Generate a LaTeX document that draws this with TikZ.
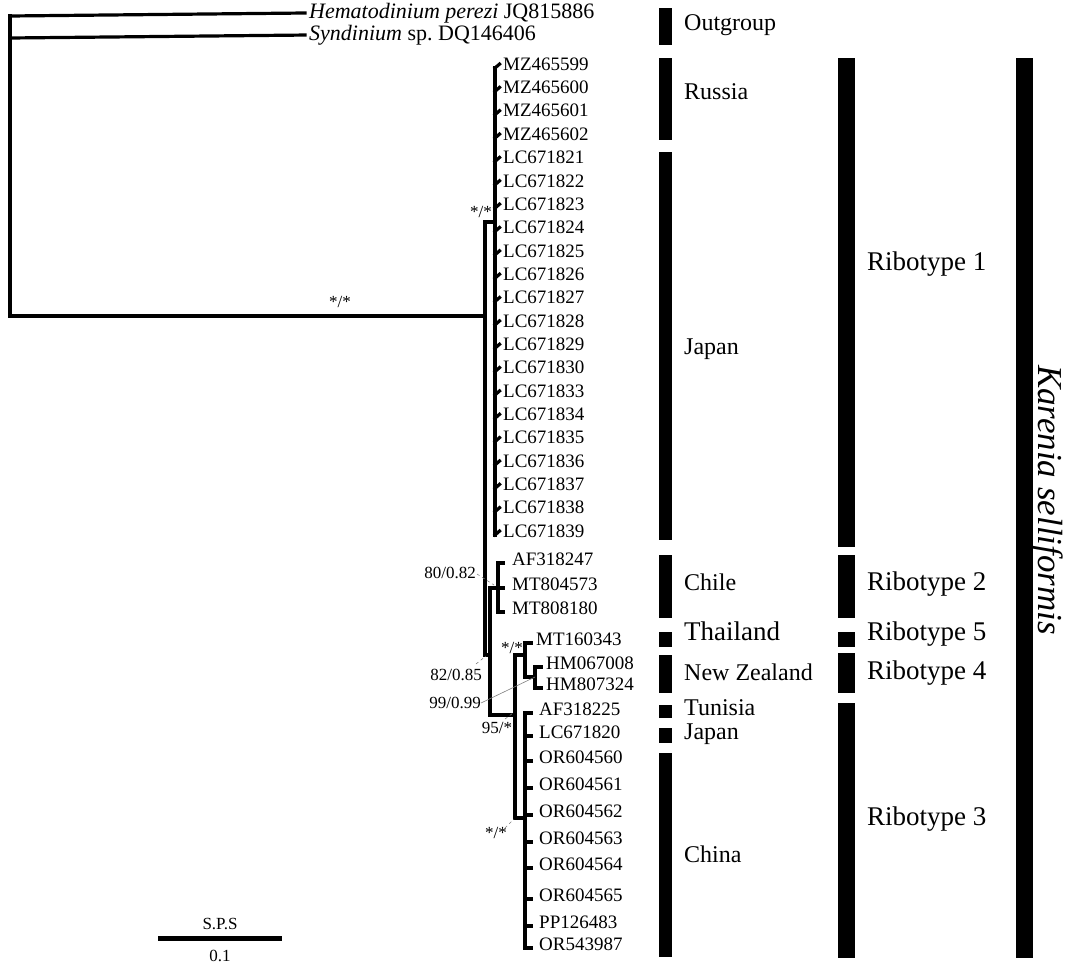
\documentclass[tikz,border=0pt]{standalone}
\usepackage{fontspec}
\setmainfont{Liberation Serif}
\frenchspacing
\begin{document}
\begin{tikzpicture}[x=1pt,y=-1pt,
  br/.style={line width=3.2pt, line cap=rect},
  leaf/.style={inner sep=0pt, anchor=mid west, font=\fontsize{19}{19}\selectfont},
  outg/.style={inner sep=0pt, anchor=mid west, font=\fontsize{22}{22}\selectfont},
  supp/.style={inner sep=0pt, font=\fontsize{17}{17}\selectfont},
  lead/.style={line width=0.6pt, gray, dashed},
  region/.style={inner sep=0pt, anchor=mid west, font=\fontsize{24}{24}\selectfont},
  ribo/.style={inner sep=0pt, anchor=mid west, font=\fontsize{27}{27}\selectfont},
  bar/.style={fill=black}]
\useasboundingbox (0,0) rectangle (1066,964);

% ---------- outgroup ----------
\coordinate (root) at (10,316);
\coordinate (rtop) at (10,16);
\coordinate (o2) at (10,38);
\node[outg] (hema) at (309,16) {\textit{Hematodinium perezi} JQ815886};
\node[outg] (synd) at (309,38) {\textit{Syndinium} sp. DQ146406};
\draw[br] (rtop) -- (root);
\draw[br] (rtop) -- ([xshift=-4pt]hema.west);
\draw[br] (o2) -- ([xshift=-4pt]synd.west);

% ---------- main nodes ----------
\coordinate (nM) at (485,316);
\coordinate (nMt) at (485,222);
\coordinate (nMb) at (485,655);
\draw[br] (root) -- (nM);
\draw[br] (nMt) -- (nMb);
\node[supp] (sRoot) at (340,302) {*/*};
\node[supp] (sR1) at (481,212) {*/*};

% ---------- Ribotype 1 clade ----------
\coordinate (r1) at (495,222);
\draw[br] (nMt) -- (r1);
\draw[br] (495,68) -- (495,535);
\foreach \n [count=\i from 0] in {MZ465599,MZ465600,MZ465601,MZ465602,LC671821,LC671822,LC671823,LC671824,LC671825,LC671826,LC671827,LC671828,LC671829,LC671830,LC671833,LC671834,LC671835,LC671836,LC671837,LC671838,LC671839}{
  \pgfmathsetmacro\yy{68+\i*23.35}
  \node[leaf] (l\n) at (503,\yy) {\n};
  \draw[br] (495,\yy) -- ([xshift=-3.5pt]l\n.west);
}

% ---------- node 82/0.85 ----------
\coordinate (n82) at (490,655);
\coordinate (n82t) at (490,588);
\coordinate (n82b) at (490,715);
\draw[br] (nMb) -- (n82);
\draw[br] (n82t) -- (n82b);
\node[supp, anchor=east] (s82) at (482,675) {82/0.85};
\draw[lead] (476,664) -- (486,656);

% ---------- Chile clade ----------
\coordinate (chl) at (498,588);
\draw[br] (n82t) -- (chl);
\draw[br] (498,563) -- (498,612);
\foreach \n/\yy in {AF318247/563,MT804573/588,MT808180/612}{
  \node[leaf] (l\n) at (512,\yy) {\n};
  \draw[br] (498,\yy) -- (503,\yy);
}
\node[supp, anchor=east] (s80) at (476,573) {80/0.82};
\draw[lead] (477,574) -- (494,585);

% ---------- node 95/* ----------
\coordinate (n95) at (515,715);
\coordinate (n95t) at (515,655);
\coordinate (n95b) at (515,818);
\draw[br] (n82b) -- (n95);
\draw[br] (n95t) -- (n95b);
\node[supp] (s95) at (497,728) {95/*};
\draw[lead] (505,719) -- (513,713);

% ---------- Ribotype 5 / 4 ----------
\coordinate (n54) at (525,655);
\draw[br] (n95t) -- (n54);
\draw[br] (525,643) -- (525,677);
\node[leaf] (lMT160343) at (536,643) {MT160343};
\draw[br] (525,643) -- (531,643);
\node[supp] (s54) at (512,648) {*/*};
\coordinate (n99) at (535,677);
\draw[br] (525,677) -- (n99);
\draw[br] (535,667) -- (535,688);
\foreach \n/\yy in {HM067008/667,HM807324/688}{
  \node[leaf] (l\n) at (546,\yy) {\n};
  \draw[br] (535,\yy) -- (541,\yy);
}
\node[supp, anchor=east] (s99) at (481,703) {99/0.99};
\draw[line width=0.6pt, gray] (s99.east) -- (n99);

% ---------- Ribotype 3 ----------
\coordinate (r3) at (525,818);
\draw[br] (n95b) -- (r3);
\draw[br] (525,713) -- (525,948);
\foreach \n/\yy in {AF318225/713,LC671820/736,OR604560/761,OR604561/788,OR604562/815,OR604563/842,OR604564/868,OR604565/899,PP126483/926,OR543987/948}{
  \node[leaf] (l\n) at (539,\yy) {\n};
  \draw[br] (525,\yy) -- (531,\yy);
}
\node[supp] (sR3) at (496,833) {*/*};
\draw[lead] (505,828) -- (514,819);

% ---------- scale bar ----------
\coordinate (sb1) at (158,938);
\coordinate (sb2) at (282,938);
\draw[line width=5pt] (sb1) -- (sb2);
\node[supp] (sps) at (220,924) {S.P.S};
\node[supp] (sc) at (220,956) {0.1};

% ---------- column 1 bars ----------
\foreach \a/\b in {8/45,58/140,152/540,555/618,632/647,655/693,705/718,728/743,753/957}{
  \fill[bar] (659,\a) rectangle (672,\b);
}
\node[region] (tOut) at (684,28) {Outgroup};
\node[region] (tRus) at (684,97) {Russia};
\node[region] (tJap) at (684,352) {Japan};
\node[region] (tChi) at (684,588) {Chile};
\node[ribo] (tTha) at (684,638) {Thailand};
\node[region] (tNZ) at (684,678) {New Zealand};
\node[region] (tTun) at (684,713) {Tunisia};
\node[region] (tJap2) at (684,737) {Japan};
\node[region] (tChn) at (684,860) {China};

% ---------- column 2 bars ----------
\foreach \a/\b in {58/547,555/618,632/647,653/693,703/958}{
  \fill[bar] (838,\a) rectangle (855,\b);
}
\node[ribo] (tR1) at (867,268) {Ribotype 1};
\node[ribo] (tR2) at (867,588) {Ribotype 2};
\node[ribo] (tR5) at (867,638) {Ribotype 5};
\node[ribo] (tR4) at (867,677) {Ribotype 4};
\node[ribo] (tR3) at (867,823) {Ribotype 3};

% ---------- column 3 ----------
\fill[bar] (1016,58) rectangle (1033,958);
\node[inner sep=0pt, rotate=-90, anchor=base, font=\fontsize{35}{35}\selectfont\itshape] (ks) at (1038,500) {Karenia selliformis};
\end{tikzpicture}
\end{document}
